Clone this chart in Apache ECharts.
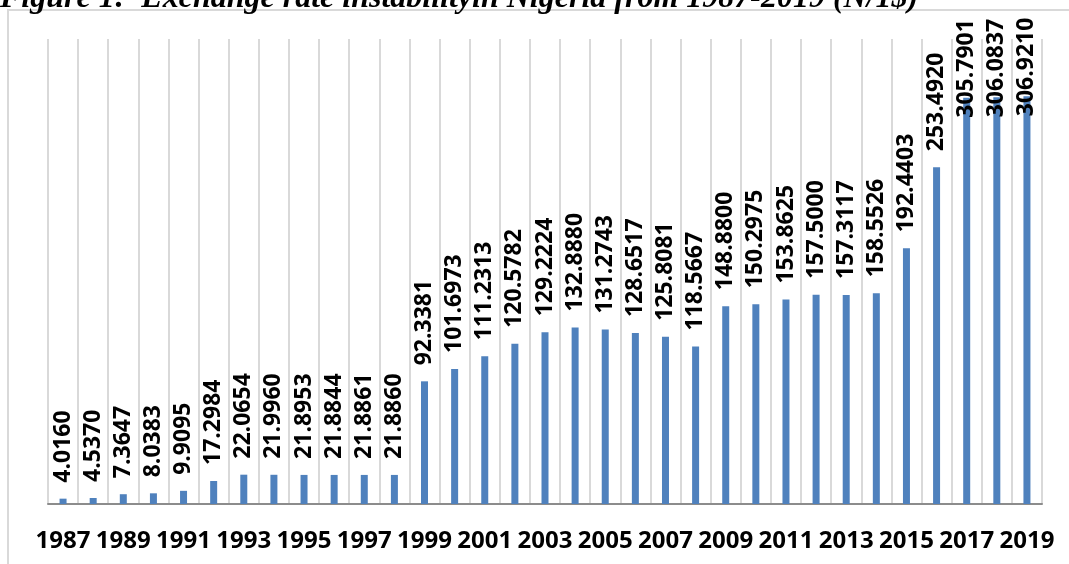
<!DOCTYPE html>
<html>
<head>
<meta charset="utf-8">
<title>Exchange rate instability in Nigeria</title>
<script src="https://cdn.jsdelivr.net/npm/echarts@6/dist/echarts.min.js"></script>
<style>
  html, body { margin: 0; padding: 0; background: #ffffff; }
  #chart { width: 1069px; height: 564px; }
</style>
</head>
<body>
<div id="chart"></div>
<script>
// Naira per US dollar, yearly
const years = ['1987','1988','1989','1990','1991','1992','1993','1994','1995','1996','1997',
  '1998','1999','2000','2001','2002','2003','2004','2005','2006','2007','2008','2009','2010',
  '2011','2012','2013','2014','2015','2016','2017','2018','2019'];
const rates = [4.0160, 4.5370, 7.3647, 8.0383, 9.9095, 17.2984, 22.0654, 21.9960, 21.8953,
  21.8844, 21.8861, 21.8860, 92.3381, 101.6973, 111.2313, 120.5782, 129.2224, 132.8880,
  131.2743, 128.6517, 125.8081, 118.5667, 148.8800, 150.2975, 153.8625, 157.5000, 157.3117,
  158.5526, 192.4403, 253.4920, 305.7901, 306.0837, 306.9210];
const titleText = 'Figure 1:  Exchange rate instabilityin Nigeria from 1987-2019 (\u20A6/1$)';

const chart = echarts.init(document.getElementById('chart'));

// Labels on the tallest bars are pulled down over the bar so they stay inside the frame
const seriesData = rates.map(v => {
  const item = { value: v };
  if (v > 300) item.label = { distance: -20 };
  return item;
});

chart.setOption({
  animation: false,
  graphic: [
    {
      type: 'rect',
      shape: { x: 8, y: 10, width: 1200, height: 700 },
      style: { fill: 'none', stroke: '#d9d9d9', lineWidth: 2 },
      silent: true
    },
    {
      type: 'text',
      left: 0,
      top: -17,
      style: {
        text: titleText,
        font: 'italic bold 32px "Liberation Serif", "DejaVu Serif", serif',
        fill: '#000000'
      },
      silent: true
    }
  ],
  grid: { left: 48, right: 27, top: 39, bottom: 60, containLabel: false },
  xAxis: {
    type: 'category',
    data: years,
    boundaryGap: true,
    axisLine: { show: true, lineStyle: { color: '#8c8c8c', width: 2 } },
    axisTick: { show: false },
    splitLine: { show: true, interval: 0, lineStyle: { color: '#d9d9d9', width: 2 } },
    axisLabel: {
      interval: 1,
      margin: 25,
      color: '#000000',
      fontFamily: 'Open Sans',
      fontWeight: 'bold',
      fontSize: 24
    }
  },
  yAxis: {
    type: 'value',
    min: 0,
    max: 350,
    show: false,
    splitLine: { show: false }
  },
  series: [{
    type: 'bar',
    data: seriesData,
    barWidth: 7,
    itemStyle: { color: '#4f81bd' },
    label: {
      show: true,
      position: 'top',
      distance: 16,
      rotate: 90,
      align: 'left',
      verticalAlign: 'middle',
      color: '#000000',
      fontFamily: 'Open Sans',
      fontWeight: 'bold',
      fontSize: 23,
      formatter: p => p.value.toFixed(4)
    }
  }]
});
</script>
</body>
</html>
